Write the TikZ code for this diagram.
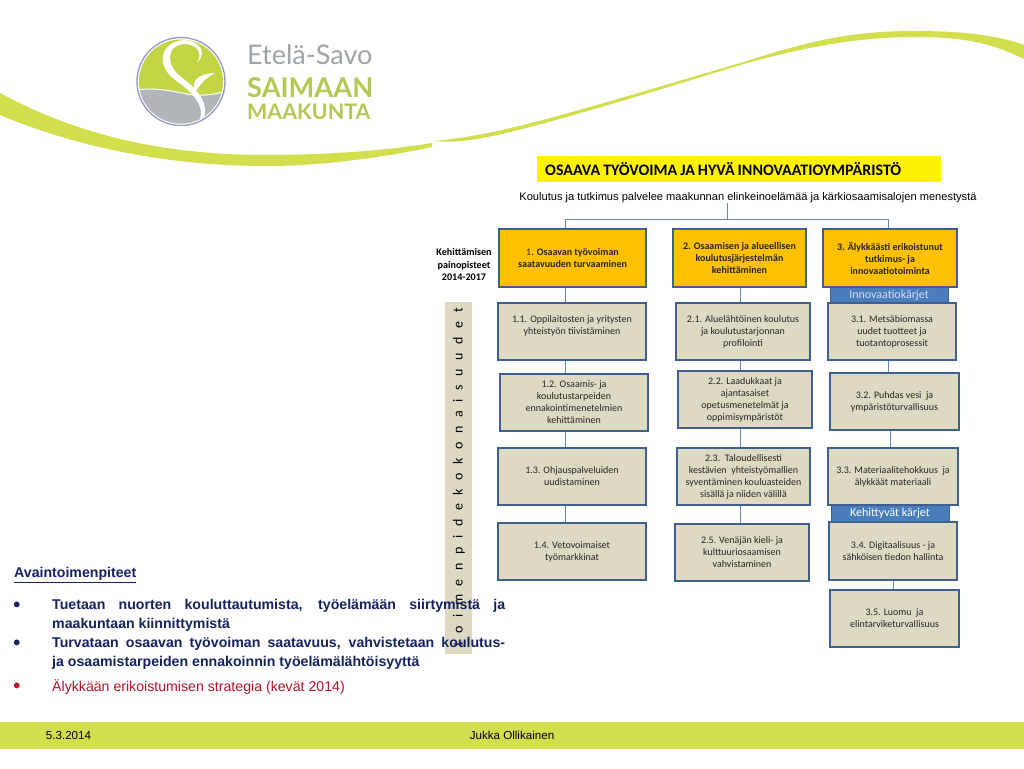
\documentclass[tikz,border=0pt]{standalone}
\usepackage{fontspec}
\setmainfont{Carlito}
\newfontfamily\arialfont{Liberation Sans}
\newfontfamily\logofont{Lato}
\definecolor{swoosh}{HTML}{D2DF4C}
\definecolor{logogreen}{HTML}{C3D545}
\definecolor{logogray}{HTML}{B1B6BB}
\definecolor{logotext}{HTML}{B5C855}
\definecolor{prio}{HTML}{FFC000}
\definecolor{beige}{HTML}{DDD9C3}
\definecolor{edge}{HTML}{3F5F8E}
\definecolor{linkblue}{HTML}{5F88B8}
\definecolor{tagblue}{HTML}{4A7EBB}
\definecolor{navy}{HTML}{14235F}
\definecolor{redtext}{HTML}{B5122B}
\tikzset{
    boxtext/.style={font=\fontsize{10}{12}\selectfont, align=center, inner sep=0pt, text=black!85},
    priobox/.style={boxtext, draw=edge, fill=prio, line width=2.1pt},
    actionbox/.style={boxtext, draw=edge, fill=beige, line width=2.1pt},
    tagbox/.style={draw=edge, fill=tagblue, line width=1pt, inner sep=0pt, text=white, font=\fontsize{12}{14}\selectfont},
    link/.style={draw=linkblue, line width=0.8pt},
    bodytext/.style={anchor=north west, inner sep=0pt, text width=453pt, align=justify, font=\arialfont\fontsize{14.15}{19}\selectfont},
    bulletmark/.style={inner sep=0pt, font=\arialfont\bfseries\fontsize{20}{20}\selectfont},
    foottext/.style={inner sep=0pt, font=\arialfont\fontsize{11.6}{13}\selectfont}
}
\begin{document}
\begin{tikzpicture}[x=1pt, y=-1pt]
        \useasboundingbox (0, 0) rectangle (1024, 768);
        \fill[white] (0, 0) rectangle (1024, 768);

        % swoosh
        \fill[swoosh] (0, 93) .. controls (60, 125) and (140, 155) .. (267, 155)
            .. controls (330, 155) and (390, 150) .. (432, 143)
            -- (432, 147) .. controls (380, 158) and (320, 166) .. (267, 166)
            .. controls (150, 166) and (60, 140) .. (0, 115) -- cycle;
        \fill[swoosh] (434, 141) .. controls (500, 135) and (560, 116) .. (747, 61)
            .. controls (810, 41) and (850, 31) .. (915, 31)
            .. controls (965, 31) and (1000, 36) .. (1024, 45)
            -- (1024, 59) .. controls (990, 42) and (960, 37) .. (915, 37)
            .. controls (860, 37) and (810, 46) .. (747, 63)
            .. controls (600, 108) and (510, 135) .. (470, 140)
            .. controls (455, 142) and (445, 142) .. (434, 141) -- cycle;

        % logo
        \begin{scope}
            \clip (181, 81.5) circle (42);
            \fill[logogreen] (130, 30) rectangle (235, 135);
            \fill[logogray] (130, 91) .. controls (155, 86) and (175, 92) .. (193, 95)
                .. controls (205, 96) and (218, 94) .. (230, 90) -- (230, 130) -- (130, 130) -- cycle;
            \draw[white, line width=1pt] (130, 91) .. controls (155, 86) and (175, 92) .. (193, 95)
                .. controls (205, 96) and (218, 94) .. (230, 90);
            \fill[white] (197, 62) .. controls (203, 58) and (204, 50) .. (198, 45)
                .. controls (188, 36) and (170, 40) .. (164, 52)
                .. controls (160, 64) and (166, 74) .. (178, 82)
                .. controls (192, 92) and (200, 102) .. (201, 112)
                .. controls (201, 120) and (197, 126) .. (192, 130)
                .. controls (200, 128) and (206, 118) .. (205, 108)
                .. controls (203, 94) and (190, 84) .. (180, 76)
                .. controls (170, 68) and (168, 58) .. (172, 50)
                .. controls (178, 42) and (192, 42) .. (198, 50)
                .. controls (200, 54) and (200, 58) .. (197, 62) -- cycle;
            \fill[white] (195, 92) .. controls (191, 80) and (198, 74) .. (215, 73)
                .. controls (205, 78) and (201, 84) .. (195, 92) -- cycle;
        \end{scope}
        \draw[gray!70!blue!60, line width=1.4pt] (181, 81.5) circle (44);

        \node[anchor=west, inner sep=0pt, text=logogray!90!black, font=\logofont\fontsize{27}{29}\selectfont] (logoA) at (247, 55) {Etelä-Savo};
        \node[anchor=west, inner sep=0pt, text=logotext, font=\logofont\bfseries\fontsize{27.2}{29}\selectfont] (logoB) at (247, 88) {SAIMAAN};
        \node[anchor=west, inner sep=0pt, text=logotext, font=\logofont\bfseries\fontsize{21.4}{23}\selectfont] (logoC) at (247, 112) {MAAKUNTA};

        % heading
        \node[anchor=west, fill=yellow, text width=388pt, minimum height=26pt, inner xsep=8pt, inner ysep=0pt, font=\bfseries\fontsize{16}{17}\selectfont] (heading) at (537, 169) {\spaceskip=3pt OSAAVA TYÖVOIMA JA HYVÄ INNOVAATIOYMPÄRISTÖ};
        \node[inner sep=0pt, font=\arialfont\fontsize{11.1}{13}\selectfont] (goal) at (748, 198) {Koulutus ja tutkimus palvelee maakunnan elinkeinoelämää ja kärkiosaamisalojen menestystä};

        \node[align=center, inner sep=0pt, font=\bfseries\fontsize{10.1}{12.5}\selectfont] (focus) at (464, 264.5) {Kehittämisen\\painopisteet\\2014-2017};

        % side strip
        \fill[beige] (445, 302) rectangle (472, 654);
        \node[rotate=90, inner sep=0pt, font=\fontsize{14}{16}\selectfont] (strip) at (459, 477.5) {\spaceskip=8.6pt t o i m e n p i d e k o k o n a i s u u d e t};

        % column guides
        \coordinate (lineA) at (565, 219);
        \coordinate (lineB) at (740, 219);
        \coordinate (lineC) at (888, 219);
        \coordinate (lineD) at (890, 219);
        \coordinate (lineTop) at (727, 219);

        % tags sit under the boxes
        \node[tagbox, minimum width=118pt, minimum height=17pt] (tagInno) at (889, 295) {\textcolor{blue!15!white}{Innovaatiokärjet}};
        \node[tagbox, minimum width=118pt, minimum height=18pt] (tagNext) at (890, 513) {Kehittyvät kärjet};

        % priorities
        \node[priobox, minimum width=147pt, minimum height=58pt] (prioA) at (572.5, 258) {1. \textbf{Osaavan työvoiman}\\\textbf{saatavuuden turvaaminen}};
        \node[priobox, minimum width=133pt, minimum height=58pt] (prioB) at (739.5, 258) {\textbf{2. Osaamisen ja alueellisen}\\\textbf{koulutusjärjestelmän}\\\textbf{kehittäminen}};
        \node[priobox, minimum width=134pt, minimum height=58pt] (prioC) at (890, 258) {\textbf{3. Älykkäästi erikoistunut}\\\textbf{tutkimus- ja}\\\textbf{innovaatiotoiminta}};

        % actions
        \node[actionbox, minimum width=148pt, minimum height=57pt] (actA) at (572, 331.5) {1.1. Oppilaitosten ja yritysten\\yhteistyön tiivistäminen\\~};
        \node[actionbox, minimum width=148pt, minimum height=57pt] (actB) at (574, 402.5) {1.2. Osaamis- ja\\koulutustarpeiden\\ennakointimenetelmien\\kehittäminen};
        \node[actionbox, minimum width=148pt, minimum height=57pt] (actC) at (572, 476.5) {1.3. Ohjauspalveluiden\\uudistaminen};
        \node[actionbox, minimum width=148pt, minimum height=57pt] (actD) at (572, 551.5) {1.4. Vetovoimaiset\\työmarkkinat};

        \node[actionbox, minimum width=134pt, minimum height=57pt] (actE) at (743, 331.5) {2.1. Aluelähtöinen koulutus\\ja koulutustarjonnan\\profilointi};
        \node[actionbox, minimum width=134pt, minimum height=57pt] (actF) at (745, 399.5) {2.2. Laadukkaat ja\\ajantasaiset\\opetusmenetelmät ja\\oppimisympäristöt};
        \node[actionbox, minimum width=133pt, minimum height=57pt] (actG) at (743.5, 476.5) {2.3.\ \ Taloudellisesti\\kestävien\ \ yhteistyömallien\\syventäminen kouluasteiden\\sisällä ja niiden välillä};
        \node[actionbox, minimum width=134pt, minimum height=57pt] (actH) at (742, 552.5) {2.5. Venäjän kieli- ja\\kulttuuriosaamisen\\vahvistaminen};

        \node[actionbox, minimum width=128pt, minimum height=57pt] (actI) at (892, 331.5) {3.1. Metsäbiomassa\\uudet tuotteet ja\\tuotantoprosessit};
        \node[actionbox, minimum width=129pt, minimum height=57pt] (actJ) at (894.5, 401.5) {3.2. Puhdas vesi\ \ ja\\ympäristöturvallisuus};
        \node[actionbox, minimum width=130pt, minimum height=57pt] (actK) at (893, 476.5) {3.3. Materiaalitehokkuus\ \ ja\\älykkäät materiaali};
        \node[actionbox, minimum width=128pt, minimum height=58pt] (actL) at (893, 551) {3.4. Digitaalisuus - ja\\sähköisen tiedon hallinta};
        \node[actionbox, minimum width=129pt, minimum height=57pt] (actM) at (894.5, 618.5) {3.5. Luomu\ \ ja\\elintarviketurvallisuus};

        % connectors
        \draw[link] (goal.south -| lineTop) -- (lineTop);
        \draw[link] (lineA) -- (lineC);
        \draw[link] (lineA) -- (prioA.north -| lineA);
        \draw[link] (lineC) -- (prioC.north -| lineC);
        \draw[link] (prioA.south -| lineA) -- (actA.north -| lineA);
        \draw[link] (actA.south -| lineA) -- (actB.north -| lineA);
        \draw[link] (actB.south -| lineA) -- (actC.north -| lineA);
        \draw[link] (actC.south -| lineA) -- (actD.north -| lineA);
        \draw[link] (prioB.south -| lineB) -- (actE.north -| lineB);
        \draw[link] (actE.south -| lineB) -- (actF.north -| lineB);
        \draw[link] (actF.south -| lineB) -- (actG.north -| lineB);
        \draw[link] (actG.south -| lineB) -- (actH.north -| lineB);
        \draw[link] (actI.south -| lineC) -- (actJ.north -| lineC);
        \draw[link] (actJ.south -| lineD) -- (actK.north -| lineD);
        \draw[link] (actL.south) -- (actM.north -| actL.south);

        % key actions
        \node[anchor=west, inner sep=0pt, text=navy, font=\arialfont\bfseries\fontsize{14.15}{16}\selectfont] (keyHead) at (14, 575) {\underline{Avaintoimenpiteet}};

        \node[bulletmark, text=navy] (bulletA) at (17, 606.5) {•};
        \node[bodytext, text=navy] (keyA) at (52, 599) {\bfseries Tuetaan nuorten kouluttautumista, työelämään siirtymistä ja\linebreak maakuntaan kiinnittymistä};
        \node[bulletmark, text=navy] (bulletB) at (17, 644.5) {•};
        \node[bodytext, text=navy] (keyB) at (52, 637) {\bfseries Turvataan osaavan työvoiman saatavuus, vahvistetaan koulutus-\linebreak ja osaamistarpeiden ennakoinnin työelämälähtöisyyttä};
        \node[bulletmark, text=redtext] (bulletC) at (17, 687.5) {•};
        \node[bodytext, text=redtext] (keyC) at (52, 679) {Älykkään erikoistumisen strategia (kevät 2014)};

        % footer
        \fill[swoosh] (0, 722) rectangle (1024, 749);
        \node[foottext] (date) at (68.5, 735) {5.3.2014};
        \node[foottext] (author) at (512, 735) {Jukka Ollikainen};
    \end{tikzpicture}
\end{document}
